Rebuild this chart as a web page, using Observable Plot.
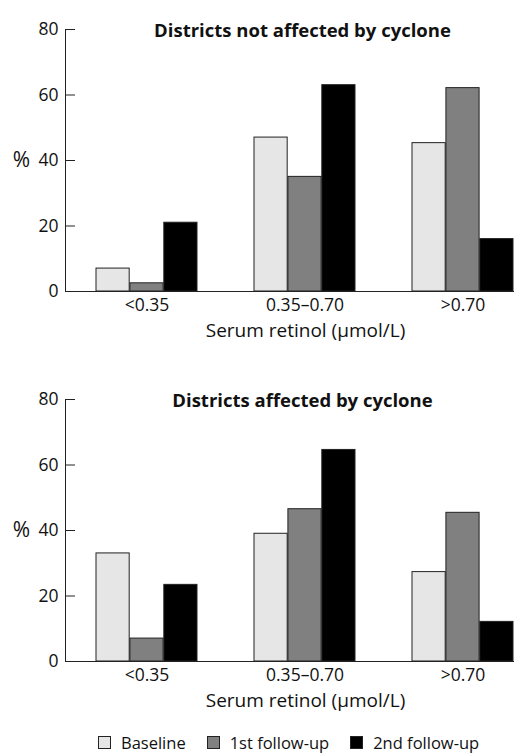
<!DOCTYPE html>
<html><head><meta charset="utf-8">
<script src="https://cdn.jsdelivr.net/npm/d3@7"></script>
<script src="https://cdn.jsdelivr.net/npm/@observablehq/plot@0.6"></script>
<style>
body{margin:0;background:#fff;font-family:"Open Sans",sans-serif;color:#111;}
#wrap{width:514px;overflow:hidden;}
#wrap svg{max-width:none !important;display:block;}
.legend{display:flex;align-items:center;padding-left:98px;height:25px;margin-top:0;font-size:16.5px;}
.legend .item{display:flex;align-items:center;margin-right:21px;}
.legend .sw{width:11px;height:11px;border:1px solid #222;margin-right:10px;}
</style></head><body><div id="wrap"></div>
<script>
const categories = ["<0.35", "0.35–0.70", ">0.70"];
const series = ["Baseline", "1st follow-up", "2nd follow-up"];
const colors = ["#e6e6e6", "#808080", "#000000"];
const yTicks = [0, 20, 40, 60, 80];
const xLabel = "Serum retinol (µmol/L)";
const titles = ["Districts not affected by cyclone", "Districts affected by cyclone"];
// values per series, in category order
const notAffectedBaseline = [7, 47, 45.3];
const notAffectedFirst = [2.5, 35, 62.1];
const notAffectedSecond = [21, 63, 16];
const affectedBaseline = [33, 39, 27.3];
const affectedFirst = [7, 46.5, 45.4];
const affectedSecond = [23.4, 64.6, 12.1];

const W = 545, ML = 65, PI = 0.36, PO = 0.19;
const step = (W - ML) / (categories.length - PI + 2 * PO);
const bw = step * (1 - PI);
const FONT = "Open Sans";

function panel(title, vals, height, marginBottom) {
  const data = vals.flatMap((arr, i) => categories.map((c, j) => ({category: c, series: series[i], k: i, value: arr[j]})));
  const bars = series.map((s, i) => Plot.barY(data.filter(d => d.k === i), {
    x: "category", y: "value", fill: colors[i], stroke: "#222", strokeWidth: 1,
    insetLeft: i * bw / 3, insetRight: (2 - i) * bw / 3
  }));
  return Plot.plot({
    width: W, height, marginLeft: ML, marginRight: 0, marginTop: 29, marginBottom,
    style: {fontFamily: FONT, fontSize: "17px", color: "#111", background: "#fff"},
    x: {type: "band", domain: categories, paddingInner: PI, paddingOuter: PO},
    y: {domain: [0, 80]},
    marks: [
      ...bars,
      Plot.ruleY([0], {stroke: "#222"}),
      Plot.frame({anchor: "left", stroke: "#222"}),
      Plot.axisY({ticks: yTicks, tickSize: -10, tickPadding: 17, label: null, fontSize: 17.5, stroke: "#222"}),
      Plot.axisX({tickSize: 0, tickPadding: 7, label: null, fontSize: 17.5}),
      Plot.text(["%"], {y: [40], frameAnchor: "left", dx: -44, fontSize: 21, textAnchor: "middle"}),
      Plot.text([xLabel], {frameAnchor: "bottom", dy: 45, fontSize: 19}),
      Plot.text([title], {frameAnchor: "top", dy: -6, fontSize: 18.5, fontWeight: "bold", dx: -3})
    ]
  });
}

const wrap = document.getElementById("wrap");
const p1 = panel(titles[0], [notAffectedBaseline, notAffectedFirst, notAffectedSecond], 370, 79);
const p2 = panel(titles[1], [affectedBaseline, affectedFirst, affectedSecond], 360, 69);
wrap.appendChild(p1); wrap.appendChild(p2);
const leg = document.createElement("div");
leg.className = "legend";
series.forEach((s, i) => {
  const it = document.createElement("div"); it.className = "item";
  const sw = document.createElement("span"); sw.className = "sw"; sw.style.background = colors[i];
  const tx = document.createElement("span"); tx.textContent = s;
  it.appendChild(sw); it.appendChild(tx); leg.appendChild(it);
});
wrap.appendChild(leg);
</script></body></html>
